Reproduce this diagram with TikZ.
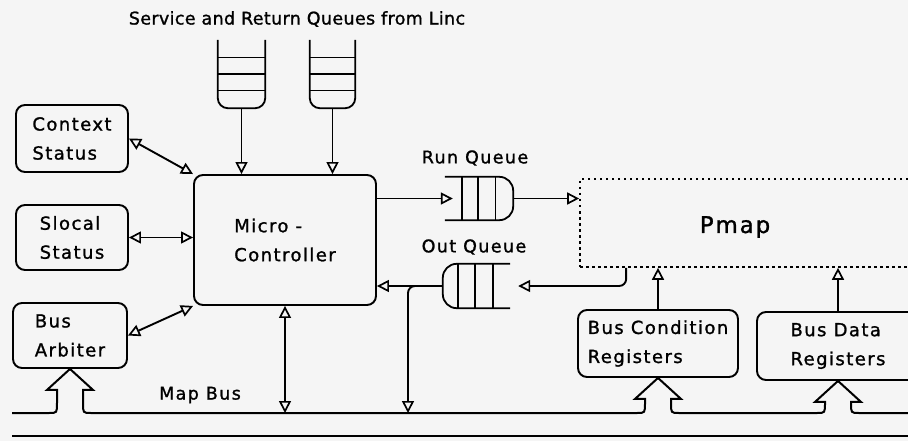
\documentclass[tikz,border=0pt]{standalone}
\usepackage{fontspec}
\setmainfont{DejaVu Sans}[LetterSpace=8,FakeBold=1.2]
\usetikzlibrary{positioning,arrows.meta,calc}
\tikzset{
  unit/.style={draw, rounded corners=9pt, line width=1.9pt, align=left,
               font=\fontsize{18}{29}\selectfont},
  lbl/.style={font=\fontsize{17.5}{20}\selectfont, inner sep=1pt},
  qbox/.style={inner sep=0pt},
  queue/.style={line width=1.8pt},
  flow/.style={-{Triangle[open,length=12pt,width=12pt,line width=1.7pt]}, line width=1.9pt},
  biflow/.style={{Triangle[open,length=12pt,width=12pt,line width=1.7pt]}-{Triangle[open,length=12pt,width=12pt,line width=1.7pt]},
                 line width=1.9pt},
  busline/.style={line width=2pt},
}
\begin{document}
\begin{tikzpicture}[x=1pt,y=-1pt]
\fill[black!4] (0,0) rectangle (908,441);
\useasboundingbox (0,0) rectangle (908,441);
% queues from Linc
\node[lbl, font=\fontsize{17.5}{20}\selectfont\addfontfeatures{LetterSpace=2}] (title) at (297,19)
  {Service and Return Queues from Linc};
\node[qbox, minimum width=47, minimum height=68] (sq) at (241.5,74) {};
\node[qbox, minimum width=45, minimum height=68] (rq) at (332.5,74) {};
\node[unit, minimum width=182, minimum height=130] (mc) at (285,240) {Micro -\\Controller};
\node[unit, minimum width=112, minimum height=67] (ctx) at (72,138.5) {Context\\Status};
\node[unit, minimum width=112, minimum height=65] (slo) at (72,237.5) {Slocal\\Status};
\node[unit, minimum width=114, minimum height=65] (arb) at (70,335.5) {Bus\\Arbiter};
% run and out queues
\node[lbl] (runlbl) at (475,158) {Run Queue};
\node[qbox, minimum width=68, minimum height=43] (runq) at (479,198.5) {};
\node[lbl] (outlbl) at (474,247) {Out Queue};
\node[qbox, minimum width=67, minimum height=44] (outq) at (476.5,286) {};
% pmap and registers
\node[draw, dash pattern=on 2.5pt off 3.5pt, line width=1.7pt, minimum width=345,
      minimum height=88] (pmap) at (752.5,223) {};
\node[font=\fontsize{23}{26}\selectfont] (pmaptxt) at (735,227) {Pmap};
\node[unit, minimum width=160, minimum height=67] (bcr) at (658,343.5) {Bus Condition\\Registers};
\node[unit, minimum width=162, minimum height=68] (bdr) at (838,346) {Bus Data\\Registers};
\node[lbl] (mapbus) at (200,395) {Map Bus};
\coordinate (busl) at (12,413);
\coordinate (busr) at (908,413);
\coordinate (ob) at (408,413);
% queue drawings
\foreach \q in {sq,rq} {
  \draw[queue, rounded corners=10pt] (\q.north west) -- (\q.south west) -- (\q.south east) -- (\q.north east);
  \foreach \f in {0.26,0.5,0.74}
    \draw[queue] ($(\q.north west)!\f!(\q.south west)$) -- ($(\q.north east)!\f!(\q.south east)$);
}
\draw[queue, rounded corners=14pt] (runq.north west) -- (runq.north east) -- (runq.south east) -- (runq.south west);
\foreach \f in {0.25,0.49,0.74}
  \draw[queue] ($(runq.north west)!\f!(runq.north east)$) -- ($(runq.south west)!\f!(runq.south east)$);
\draw[queue, rounded corners=14pt] (outq.north east) -- (outq.north west) -- (outq.south west) -- (outq.south east);
\foreach \f in {0.22,0.48,0.75}
  \draw[queue] ($(outq.north west)!\f!(outq.north east)$) -- ($(outq.south west)!\f!(outq.south east)$);
% connectors
\draw[flow] (sq.south) -- (mc.north -| sq.south);
\draw[flow] (rq.south) -- (mc.north -| rq.south);
\draw[biflow] (ctx.east) -- (mc.north west);
\draw[biflow] (slo.east) -- (mc.west |- slo.east);
\draw[biflow] (arb.east) -- (mc.south west);
\draw[flow, shorten >=-8pt] (mc.east |- runq.west) -- (runq.west);
\draw[flow] (runq.east) -- (pmap.west |- runq.east);
\draw[flow] (outq.west) -- (mc.east |- outq.west);
\draw[flow, rounded corners=7pt] (outq.west) -| (ob);
\draw[flow, rounded corners=7pt, shorten >=8pt] ($(pmap.south west)+(47,0)$) |- (outq.east);
\draw[flow] (bcr.north) -- (pmap.south -| bcr.north);
\draw[flow] (bdr.north) -- (pmap.south -| bdr.north);
\draw[biflow] (mc.south) -- (mc.south |- busl);
% map bus
\draw[busline] (busl) foreach \t in {arb,bcr,bdr} {
  -- ($(\t.south |- busl)+(-21,0)$) .. controls ($(\t.south |- busl)+(-13,0)$) .. ($(\t.south |- busl)+(-13,-10)$)
  -- ($(\t.south)+(-13,21)$) -- ($(\t.south)+(-23,21)$) -- (\t.south) -- ($(\t.south)+(23,21)$)
  -- ($(\t.south)+(13,21)$) -- ($(\t.south |- busl)+(13,-10)$)
  .. controls ($(\t.south |- busl)+(13,0)$) .. ($(\t.south |- busl)+(21,0)$)
} -- (busr);
\draw[busline] (12,436) -- (908,436);
\end{tikzpicture}
\end{document}
